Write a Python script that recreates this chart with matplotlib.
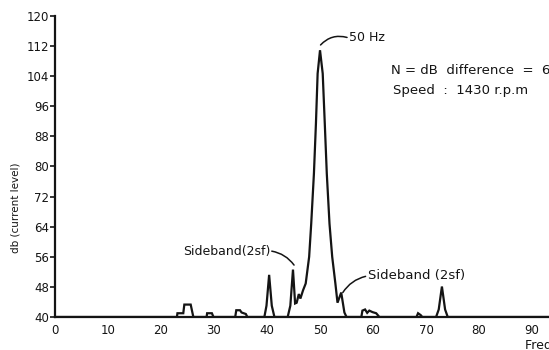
import matplotlib
matplotlib.use('Agg')
import matplotlib.pyplot as plt

# Current spectrum of the motor, dB vs frequency (Hz), traced as a polyline
freq = [0.0, 23.0, 23.1, 24.2, 24.4, 24.7, 25.6, 26.1,
        28.6, 28.7, 29.6, 29.9,
        34.0, 34.2, 34.9, 35.2, 36.0, 36.3,
        39.5, 39.9, 40.4, 40.9, 41.4,
        43.9, 44.4, 44.9, 45.3, 45.6, 46.0, 46.3, 46.8,
        47.3, 47.95, 48.34, 48.85, 49.23, 49.55, 50.0,
        50.51, 50.9, 51.28, 51.79, 52.3, 52.9,
        53.3, 54.0, 54.6, 55.0,
        57.8, 58.0, 58.5, 58.9, 59.3, 59.9, 60.6, 61.2,
        68.2, 68.5, 69.0, 69.3,
        71.9, 72.4, 73.0, 73.6, 74.1, 100.0]
level = [40.0, 40.0, 41.0, 41.0, 43.3, 43.3, 43.3, 40.0,
         40.0, 41.0, 41.0, 40.0,
         40.0, 41.8, 41.8, 41.2, 40.8, 40.0,
         40.0, 43.0, 51.2, 43.0, 40.0,
         40.0, 43.0, 52.6, 43.6, 43.8, 46.1, 44.9, 47.1,
         48.9, 56.0, 64.8, 78.1, 91.4, 104.7, 110.9,
         104.7, 91.4, 78.1, 64.8, 56.0, 48.9,
         43.8, 46.5, 41.2, 40.0,
         40.0, 41.7, 42.0, 41.1, 41.7, 41.3, 41.0, 40.0,
         40.0, 41.0, 40.5, 40.0,
         40.0, 42.0, 48.1, 42.0, 40.0, 40.0]

x_ticks = [0, 10, 20, 30, 40, 50, 60, 70, 80, 90]
y_ticks = [40, 48, 56, 64, 72, 80, 88, 96, 104, 112, 120]

ink = '#141414'

fig = plt.figure(figsize=(5.49, 3.5), dpi=100)
ax = fig.add_axes([0.1002, 0.0943, 0.9654, 0.86])

ax.plot(freq, level, color=ink, lw=1.6, solid_joinstyle='miter')

ax.set_xlim(0, 100)
ax.set_ylim(40, 120)
ax.set_xticks(x_ticks)
ax.set_yticks(y_ticks)
ax.tick_params(axis='y', direction='out', length=3.5, width=1.2, pad=1,
               labelsize=8.5, colors=ink)
ax.tick_params(axis='x', length=0, pad=5, labelsize=8.5, colors=ink)

for side in ['top', 'right']:
    ax.spines[side].set_visible(False)
for side in ['left', 'bottom']:
    ax.spines[side].set_linewidth(1.6)
    ax.spines[side].set_color(ink)

fig.text(0.029, 0.406, 'db (current level)', rotation=90, ha='center',
         va='center', fontsize=7.5, color=ink)
fig.text(0.957, 0.014, 'Frequency (Hz)', ha='left', va='center',
         fontsize=9, color=ink)

# labels, then hand-drawn style leader lines from label to peak
ax.text(55.4, 114.2, '50 Hz', ha='left', va='center', fontsize=9, color=ink)
ax.text(40.6, 57.5, 'Sideband(2sf)', ha='right', va='center', fontsize=9,
        color=ink)
ax.text(59.0, 50.9, 'Sideband (2sf)', ha='left', va='center', fontsize=9.5,
        color=ink)

line = dict(arrowstyle='-', color=ink, lw=1.1, shrinkA=0, shrinkB=0)
ax.annotate('', xy=(55.1, 114.3), xytext=(50.1, 112.3),
            arrowprops=dict(line, connectionstyle='arc3,rad=-0.3'))
ax.annotate('', xy=(45.1, 53.8), xytext=(40.9, 57.5),
            arrowprops=dict(line, connectionstyle='arc3,rad=-0.2'))
ax.annotate('', xy=(54.3, 46.5), xytext=(58.6, 50.8),
            arrowprops=dict(line, connectionstyle='arc3,rad=0.2'))

ax.text(63.4, 105.6, 'N = dB  difference  =  6', ha='left', va='center',
        fontsize=9.5, color=ink)
ax.text(63.8, 100.1, 'Speed  :  1430 r.p.m', ha='left', va='center',
        fontsize=9.5, color=ink)

fig.savefig('out.png', dpi=100)
